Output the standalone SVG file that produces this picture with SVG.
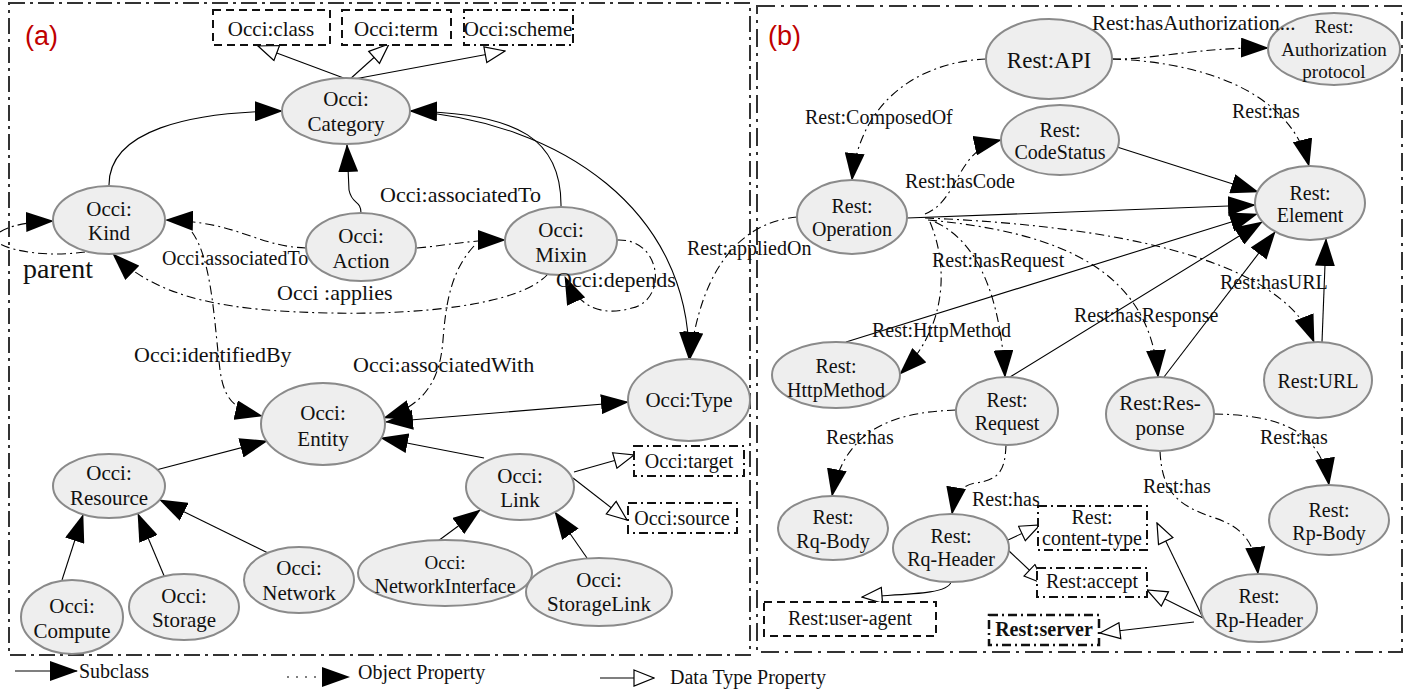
<svg xmlns="http://www.w3.org/2000/svg" width="1416" height="694" viewBox="0 0 1416 694">
<style>
text{font-family:"Liberation Serif","Times New Roman",serif;fill:#111;}
.n{fill:#eeeeee;stroke:#8a8a8a;stroke-width:2;}
.t{font-size:21px;text-anchor:middle;}
.tr{font-size:20px;text-anchor:middle;}
.lb{font-size:20px;}
.ll{font-size:22px;}
.sub{fill:none;stroke:#000;stroke-width:1.1;marker-end:url(#fa);}
.obj{fill:none;stroke:#000;stroke-width:1.1;stroke-dasharray:9,4,2,4;marker-end:url(#fa);}
.dt{fill:none;stroke:#000;stroke-width:1.1;marker-end:url(#oa);}
.bx{fill:#fff;stroke:#111;stroke-width:2;}
.dash{stroke-dasharray:8,5;}
.dd{stroke-dasharray:9,4,2,4;}
.frame{fill:none;stroke:#333;stroke-width:2;stroke-dasharray:16,5,3,5;}
.tag{font-family:"Liberation Sans",Arial,sans-serif;font-size:27px;fill:#c00000;}
</style>
<defs>
<marker id="fa" markerUnits="userSpaceOnUse" markerWidth="28" markerHeight="20" refX="27" refY="10" orient="auto-start-reverse" viewBox="0 0 28 20">
<path d="M0,0 L28,10 L0,20 z" fill="#000"/>
</marker>
<marker id="oa" markerUnits="userSpaceOnUse" markerWidth="22" markerHeight="18" refX="21" refY="9" orient="auto" viewBox="0 0 22 18">
<path d="M1,1 L21,9 L1,17 z" fill="#fff" stroke="#000" stroke-width="1.2"/>
</marker>
</defs>

<g id="frames">
<rect class="frame" x="9" y="3" width="741" height="652"/>
<rect class="frame" x="757" y="6" width="645" height="646" style="stroke-dasharray:18,6,3,6"/>
<text class="tag" x="25" y="45">(a)</text>
<text class="tag" x="768" y="45">(b)</text>
</g>

<g id="connectors">
<!-- left: subclass -->
<path class="sub" d="M109,186 C108,130 190,112 282,111"/>
<path class="sub" d="M361,213 C361,200 352,205 349,190 L347,145"/>
<path class="sub" d="M561,207 C562,140 520,113 410,111"/>
<path class="sub" d="M410,111 C560,122 690,210 689,359"/>
<path class="sub" d="M386,422 L628,402" style="marker-start:url(#fa)"/>
<path class="sub" d="M156,470 L267,441"/>
<path class="sub" d="M484,458 L381,438"/>
<path class="sub" d="M62,580 L83,515"/>
<path class="sub" d="M165,578 L138,514"/>
<path class="sub" d="M268,553 L160,500"/>
<path class="sub" d="M438,541 L480,510"/>
<path class="sub" d="M587,558 L555,512"/>
<!-- left: object properties -->
<path class="obj" d="M192,232 C212,260 214,320 220,370 C224,400 235,410 262,416"/>
<path class="obj" d="M474,246 C452,270 446,300 443,340 C440,380 425,405 384,418"/>
<path class="obj" d="M306,248 C255,246 240,222 166,220"/>
<path class="obj" d="M417,248 C450,245 470,240 505,240"/>
<path class="obj" d="M548,274 C520,305 420,315 330,313 C230,311 160,300 113,254"/>
<path class="obj" d="M617,240 C662,238 668,300 632,308 C605,316 580,310 565,277"/>
<path class="obj" d="M85,252 C50,257 15,252 0,244 M0,232 C10,226 25,222 53,221"/>
<path class="obj" d="M797,217 C745,222 702,262 690,359"/>
<!-- left: data type -->
<path class="dt" d="M349,80 L258,46"/>
<path class="dt" d="M349,80 L389,44"/>
<path class="dt" d="M349,80 L505,51"/>
<path class="dt" d="M574,472 L634,455"/>
<path class="dt" d="M573,478 L627,520"/>
<!-- right: object properties -->
<path class="obj" d="M1112,59 C1150,60 1200,47 1268,48"/>
<path class="obj" d="M1112,59 C1200,62 1290,90 1309,166"/>
<path class="obj" d="M986,59 C920,62 860,100 852,180"/>
<path class="obj" d="M925,214 C960,200 955,150 1001,140"/>
<path class="obj" d="M930,222 C950,270 945,330 900,374"/>
<path class="obj" d="M935,222 C975,240 1000,290 1005,377"/>
<path class="obj" d="M928,220 C1060,232 1150,270 1158,377"/>
<path class="obj" d="M925,218 C1100,225 1280,255 1314,342"/>
<path class="obj" d="M956,410 C900,412 845,425 832,496"/>
<path class="obj" d="M1006,445 C1005,470 1000,480 975,483 C960,486 955,495 952,514"/>
<path class="obj" d="M1214,414 C1270,415 1320,425 1329,485"/>
<path class="obj" d="M1160,451 C1162,490 1175,505 1215,518 C1245,528 1255,545 1258,574"/>
<!-- right: subclass -->
<path class="sub" d="M907,218 L1255,205"/>
<path class="sub" d="M1117,147 L1258,192"/>
<path class="sub" d="M846,342 L1257,214"/>
<path class="sub" d="M1010,377 L1262,222"/>
<path class="sub" d="M1164,377 L1275,232"/>
<path class="sub" d="M1322,342 L1326,239"/>
<!-- right: data type -->
<path class="dt" d="M1008,540 L1040,525"/>
<path class="dt" d="M1008,550 L1044,584"/>
<path class="dt" d="M951,582 C948,595 900,594 862,597"/>
<path class="dt" d="M1203,618 L1157,523"/>
<path class="dt" d="M1203,618 L1147,590"/>
<path class="dt" d="M1194,622 L1100,633"/>
<!-- legend -->
<path class="sub" d="M15,671 L77,671"/>
<path fill="none" stroke="#000" stroke-width="1.1" stroke-dasharray="2,7" marker-end="url(#fa)" d="M287,677 L349,677"/>
<path class="dt" d="M600,678 L654,678"/>
</g>

<g id="legend">
<text class="lb" x="79" y="678">Subclass</text>
<text class="lb" x="358" y="679">Object Property</text>
<text class="lb" x="670" y="684">Data Type Property</text>
</g>

<!-- left nodes -->
<g id="occi-category"><ellipse class="n" cx="346" cy="111" rx="64" ry="33"/><text class="t" x="346" y="106">Occi:</text><text class="t" x="346" y="131">Category</text></g>
<g id="occi-kind"><ellipse class="n" cx="109" cy="220" rx="56" ry="34"/><text class="t" x="109" y="216">Occi:</text><text class="t" x="109" y="240">Kind</text></g>
<g id="occi-action"><ellipse class="n" cx="361" cy="247" rx="55" ry="34"/><text class="t" x="361" y="243">Occi:</text><text class="t" x="361" y="268">Action</text></g>
<g id="occi-mixin"><ellipse class="n" cx="561" cy="241" rx="56" ry="34"/><text class="t" x="561" y="237">Occi:</text><text class="t" x="561" y="262">Mixin</text></g>
<g id="occi-type"><ellipse class="n" cx="689" cy="400" rx="61" ry="41"/><text class="t" x="689" y="407">Occi:Type</text></g>
<g id="occi-entity"><ellipse class="n" cx="323" cy="424" rx="62" ry="41"/><text class="t" x="323" y="420">Occi:</text><text class="t" x="323" y="446">Entity</text></g>
<g id="occi-resource"><ellipse class="n" cx="109" cy="486" rx="56" ry="32"/><text class="t" x="109" y="480">Occi:</text><text class="t" x="109" y="505">Resource</text></g>
<g id="occi-link"><ellipse class="n" cx="520" cy="487" rx="54" ry="33"/><text class="t" x="520" y="483">Occi:</text><text class="t" x="520" y="507">Link</text></g>
<g id="occi-compute"><ellipse class="n" cx="72" cy="617" rx="51" ry="37"/><text class="t" x="72" y="613">Occi:</text><text class="t" x="72" y="638">Compute</text></g>
<g id="occi-storage"><ellipse class="n" cx="184" cy="607" rx="55" ry="33"/><text class="t" x="184" y="603">Occi:</text><text class="t" x="184" y="627">Storage</text></g>
<g id="occi-network"><ellipse class="n" cx="299" cy="580" rx="55" ry="33"/><text class="t" x="299" y="575">Occi:</text><text class="t" x="299" y="600">Network</text></g>
<g id="occi-networkinterface"><ellipse class="n" cx="445" cy="573" rx="87" ry="33"/><text class="t" x="445" y="569" style="font-size:19px">Occi:</text><text class="t" x="445" y="593" style="font-size:20px">NetworkInterface</text></g>
<g id="occi-storagelink"><ellipse class="n" cx="599" cy="592" rx="73" ry="34"/><text class="t" x="599" y="587">Occi:</text><text class="t" x="599" y="611">StorageLink</text></g>

<!-- left boxes -->
<g id="occi-class"><rect class="bx dash" x="213" y="10" width="117" height="35"/><text class="t" x="271" y="36">Occi:class</text></g>
<g id="occi-term"><rect class="bx dash" x="342" y="10" width="109" height="35"/><text class="t" x="396" y="36">Occi:term</text></g>
<g id="occi-scheme"><rect class="bx dd" x="464" y="10" width="109" height="35"/><text class="t" x="518" y="36">Occi:scheme</text></g>
<g id="occi-target"><rect class="bx dd" x="634" y="446" width="110" height="30"/><text class="t" x="689" y="468" style="font-size:20px">Occi:target</text></g>
<g id="occi-source"><rect class="bx dd" x="628" y="503" width="109" height="30"/><text class="t" x="682" y="525" style="font-size:20px">Occi:source</text></g>

<!-- right nodes -->
<g id="rest-api"><ellipse class="n" cx="1049" cy="59" rx="63" ry="40"/><text class="tr" x="1049" y="68" style="font-size:23px">Rest:API</text></g>
<g id="rest-authorization"><ellipse class="n" cx="1334" cy="49" rx="66" ry="36"/><text class="tr" x="1334" y="33" style="font-size:19px">Rest:</text><text class="tr" x="1334" y="56" style="font-size:19px">Authorization</text><text class="tr" x="1334" y="78" style="font-size:19px">protocol</text></g>
<g id="rest-codestatus"><ellipse class="n" cx="1060" cy="140" rx="59" ry="35"/><text class="tr" x="1060" y="137">Rest:</text><text class="tr" x="1060" y="159">CodeStatus</text></g>
<g id="rest-operation"><ellipse class="n" cx="852" cy="217" rx="55" ry="37"/><text class="tr" x="852" y="213">Rest:</text><text class="tr" x="852" y="236">Operation</text></g>
<g id="rest-element"><ellipse class="n" cx="1310" cy="203" rx="55" ry="37"/><text class="tr" x="1310" y="200">Rest:</text><text class="tr" x="1310" y="222">Element</text></g>
<g id="rest-httpmethod"><ellipse class="n" cx="836" cy="375" rx="64" ry="33"/><text class="tr" x="836" y="373">Rest:</text><text class="tr" x="836" y="397">HttpMethod</text></g>
<g id="rest-request"><ellipse class="n" cx="1007" cy="411" rx="51" ry="34"/><text class="tr" x="1007" y="407">Rest:</text><text class="tr" x="1007" y="430">Request</text></g>
<g id="rest-response"><ellipse class="n" cx="1160" cy="414" rx="54" ry="37"/><text class="tr" x="1160" y="410" style="font-size:21px">Rest:Res-</text><text class="tr" x="1160" y="435" style="font-size:21px">ponse</text></g>
<g id="rest-url"><ellipse class="n" cx="1318" cy="380" rx="54" ry="38"/><text class="tr" x="1318" y="388">Rest:URL</text></g>
<g id="rest-rqbody"><ellipse class="n" cx="833" cy="528" rx="55" ry="32"/><text class="tr" x="833" y="524">Rest:</text><text class="tr" x="833" y="548">Rq-Body</text></g>
<g id="rest-rqheader"><ellipse class="n" cx="951" cy="548" rx="58" ry="34"/><text class="tr" x="951" y="543">Rest:</text><text class="tr" x="951" y="566">Rq-Header</text></g>
<g id="rest-rpbody"><ellipse class="n" cx="1329" cy="520" rx="60" ry="35"/><text class="tr" x="1329" y="517">Rest:</text><text class="tr" x="1329" y="540">Rp-Body</text></g>
<g id="rest-rpheader"><ellipse class="n" cx="1259" cy="608" rx="58" ry="34"/><text class="tr" x="1259" y="603">Rest:</text><text class="tr" x="1259" y="627">Rp-Header</text></g>

<!-- right boxes -->
<g id="rest-contenttype"><rect class="bx dd" x="1038" y="506" width="109" height="44"/><text class="tr" x="1092" y="524">Rest:</text><text class="tr" x="1092" y="545">content-type</text></g>
<g id="rest-accept"><rect class="bx dd" x="1037" y="568" width="110" height="29"/><text class="tr" x="1092" y="588">Rest:accept</text></g>
<g id="rest-useragent"><rect class="bx dash" x="764" y="602" width="172" height="34"/><text class="tr" x="850" y="625">Rest:user-agent</text></g>
<g id="rest-server"><rect class="bx dd" x="989" y="615" width="110" height="30" style="stroke-width:2.5"/><text class="tr" x="1044" y="636" style="font-weight:bold">Rest:server</text></g>

<g id="edge-labels">
<text class="ll" x="380" y="202">Occi:associatedTo</text>
<text class="lb" x="162" y="265">Occi:associatedTo</text>
<text class="ll" x="23" y="278" style="font-size:28px">parent</text>
<text class="ll" x="277" y="300">Occi :applies</text>
<text class="ll" x="556" y="287">Occi:depends</text>
<text class="ll" x="134" y="362">Occi:identifiedBy</text>
<text class="ll" x="353" y="372">Occi:associatedWith</text>
<text class="lb" x="687" y="255">Rest:appliedOn</text>
<text class="lb" x="1092" y="30" style="font-size:21px">Rest:hasAuthorization...</text>
<text class="lb" x="1232" y="118">Rest:has</text>
<text class="lb" x="805" y="124">Rest:ComposedOf</text>
<text class="lb" x="905" y="188">Rest:hasCode</text>
<text class="lb" x="932" y="267">Rest:hasRequest</text>
<text class="lb" x="872" y="337">Rest:HttpMethod</text>
<text class="lb" x="1074" y="322">Rest:hasResponse</text>
<text class="lb" x="1220" y="289">Rest:hasURL</text>
<text class="lb" x="826" y="444">Rest:has</text>
<text class="lb" x="972" y="506">Rest:has</text>
<text class="lb" x="1260" y="444">Rest:has</text>
<text class="lb" x="1143" y="493">Rest:has</text>
</g>
</svg>
